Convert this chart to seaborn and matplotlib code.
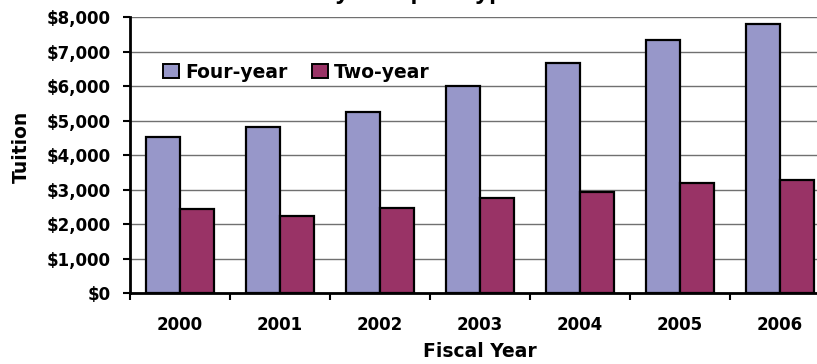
import matplotlib
matplotlib.use("Agg")
import matplotlib.pyplot as plt
from matplotlib.ticker import FuncFormatter, FixedLocator
import pandas as pd
import seaborn as sns

# Average tuition by fiscal year for each campus type
years = ["2000", "2001", "2002", "2003", "2004", "2005", "2006"]
four_year = [4520, 4810, 5265, 6010, 6670, 7340, 7810]
two_year = [2430, 2250, 2480, 2770, 2945, 3190, 3285]
series_names = ["Four-year", "Two-year"]
series_colors = ["#9797C9", "#993366"]

df = pd.DataFrame({
    "Fiscal Year": years * 2,
    "Tuition": four_year + two_year,
    "Type": [series_names[0]] * len(years) + [series_names[1]] * len(years),
})

sns.set_theme(style="white")
plt.rcParams["font.family"] = ["DejaVu Sans"]

W, H = 817, 364
fig = plt.figure(figsize=(W / 100, H / 100), dpi=100)
ax = fig.add_axes([130 / W, (H - 293.3) / H, 700 / W, 276 / H])

sns.barplot(
    data=df, x="Fiscal Year", y="Tuition", hue="Type",
    palette=series_colors, saturation=1, width=0.68, gap=0,
    edgecolor="black", linewidth=1.6, ax=ax, zorder=3,
)

ax.set_xlim(-0.5, len(years) - 0.5)
ax.set_ylim(0, 8000)
ax.set_yticks(range(0, 8001, 1000))
ax.yaxis.set_major_formatter(FuncFormatter(lambda v, p: f"${v:,.0f}"))
ax.grid(axis="y", color="#707070", linewidth=1.0, zorder=0)
ax.grid(axis="x", visible=False)
ax.set_axisbelow(True)

for side in ("top", "right"):
    ax.spines[side].set_visible(False)
for side in ("left", "bottom"):
    ax.spines[side].set_color("black")
    ax.spines[side].set_linewidth(2.0)
    ax.spines[side].set_zorder(4)

ax.tick_params(axis="y", which="major", left=True, length=5, width=1.5,
               color="black", direction="out", pad=9, labelsize=12)
ax.tick_params(axis="x", which="major", bottom=False, length=0, pad=16,
               labelsize=12)
ax.xaxis.set_minor_locator(FixedLocator([i - 0.5 for i in range(len(years) + 1)]))
ax.tick_params(axis="x", which="minor", bottom=True, length=5, width=1.5,
               color="black", direction="out")
for lab in ax.get_xticklabels() + ax.get_yticklabels():
    lab.set_fontweight("bold")
    lab.set_color("black")

ax.set_xlabel("Fiscal Year", fontsize=13.5, fontweight="bold", color="black",
              labelpad=6)
ax.set_ylabel("Tuition", fontsize=13.5, fontweight="bold", color="black")
ax.yaxis.set_label_coords(-0.142, 0.53)

handles, labels = ax.get_legend_handles_labels()
ax.get_legend().remove()
leg = fig.legend(
    handles, labels, loc="center left",
    bbox_to_anchor=(163 / W, 1 - 72 / H), ncol=2, frameon=False,
    borderpad=0, borderaxespad=0,
    handlelength=0.85, handleheight=0.8, handletextpad=0.32,
    columnspacing=1.3, labelcolor="black",
    prop={"family": "DejaVu Sans", "weight": "bold", "size": 13.5},
)
for patch in leg.get_patches():
    patch.set_edgecolor("black")
    patch.set_linewidth(1.4)

# Chart title sits above the top edge of the canvas
fig.text(232 / W, 1 + 1 / H, "Tuition by Campus Type", ha="left",
         va="baseline", fontsize=18, fontweight="bold",
         family=["Liberation Sans", "DejaVu Sans"], color="black")

fig.savefig("out.png", dpi=100)
